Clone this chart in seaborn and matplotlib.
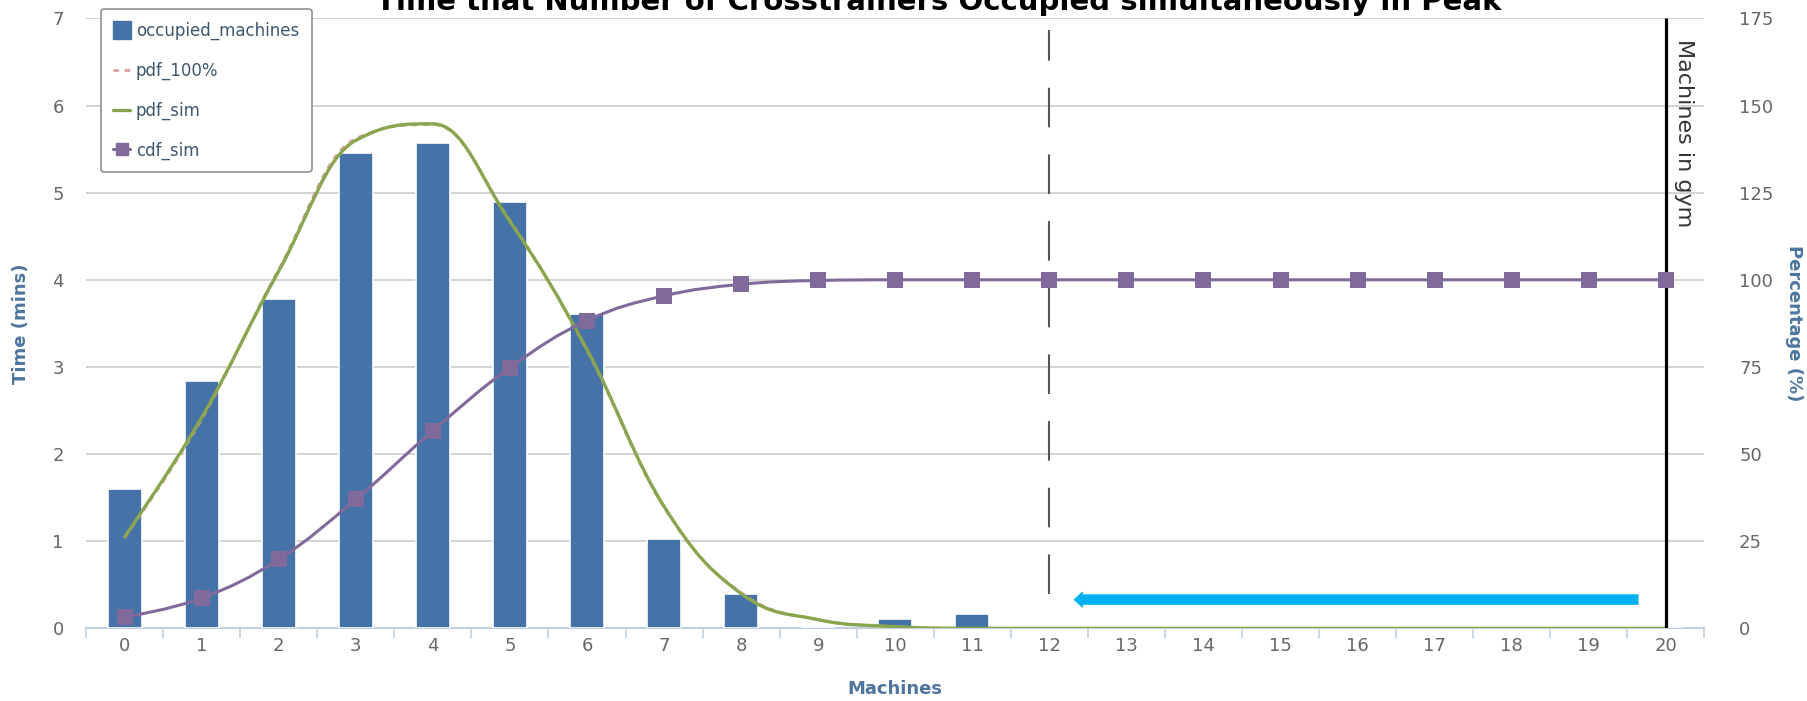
import seaborn as sns
import matplotlib.pyplot as plt
from matplotlib.path import Path
from matplotlib.patches import PathPatch
from matplotlib.lines import Line2D
from matplotlib import font_manager

# data
machines = list(range(21))
occupied = [1.60, 2.84, 3.78, 5.45, 5.57, 4.89, 3.61, 1.02, 0.39, 0.0, 0.11,
            0.16, 0, 0, 0, 0, 0, 0, 0, 0, 0]
pdf_sim = [1.05, 2.42, 4.10, 5.60, 5.79, 4.67, 3.20, 1.40, 0.40, 0.10, 0.02,
           0, 0, 0, 0, 0, 0, 0, 0, 0, 0]
pdf_100 = [1.04, 2.40, 4.12, 5.62, 5.78, 4.68, 3.19, 1.39, 0.41, 0.10, 0.02,
           0, 0, 0, 0, 0, 0, 0, 0, 0, 0]
cdf_sim = [3.2, 8.7, 19.8, 37.0, 56.7, 74.8, 88.3, 95.4, 98.7, 99.8, 100,
           100, 100, 100, 100, 100, 100, 100, 100, 100, 100]
left_ticks = [0, 1, 2, 3, 4, 5, 6, 7]
right_ticks = [0, 25, 50, 75, 100, 125, 150, 175]

threshold_x = 12
threshold_span = [0.40, 6.87]
gym_x = 20
arrow_x = [19.64, 12.32]
arrow_y = 0.33

title = "Time that Number of Crosstrainers Occupied simultaneously in Peak"

BLUE = "#4572A7"
GREEN = "#89A54E"
PURPLE = "#80699B"
PINK = "#D9A0A0"
AXIS_TITLE = "#4D759E"
TICK = "#666666"

avail = {f.name for f in font_manager.fontManager.ttflist}
tick_font = "Liberation Sans Narrow" if "Liberation Sans Narrow" in avail else "DejaVu Sans"


def spline_path(xs, ys, smoothing=1.5):
    # highcharts-style spline through the points
    denom = smoothing + 1
    n = len(xs)
    left = [(x, y) for x, y in zip(xs, ys)]
    right = list(left)
    for i in range(1, n - 1):
        x, y = xs[i], ys[i]
        lx = (smoothing * x + xs[i - 1]) / denom
        ly = (smoothing * y + ys[i - 1]) / denom
        rx = (smoothing * x + xs[i + 1]) / denom
        ry = (smoothing * y + ys[i + 1]) / denom
        corr = ((ry - ly) * (rx - x)) / (rx - lx) + y - ry
        ly += corr
        ry += corr
        py, ny = ys[i - 1], ys[i + 1]
        if ly > py and ly > y:
            ly = max(py, y); ry = 2 * y - ly
        elif ly < py and ly < y:
            ly = min(py, y); ry = 2 * y - ly
        if ry > ny and ry > y:
            ry = max(ny, y); ly = 2 * y - ry
        elif ry < ny and ry < y:
            ry = min(ny, y); ly = 2 * y - ry
        left[i] = (lx, ly)
        right[i] = (rx, ry)
    verts = [(xs[0], ys[0])]
    codes = [Path.MOVETO]
    for i in range(1, n):
        verts += [right[i - 1], left[i], (xs[i], ys[i])]
        codes += [Path.CURVE4] * 3
    return Path(verts, codes)


sns.set_theme(style="white")
plt.rcParams["font.family"] = ["DejaVu Sans"]

fig = plt.figure(figsize=(18.08, 7.01), dpi=100)
ax = fig.add_axes([0.0476, 0.1036, 0.8951, 0.8702])
ax2 = ax.twinx()

sns.barplot(x=machines, y=occupied, ax=ax, color=BLUE, saturation=1,
            width=0.44, edgecolor="white", linewidth=1.2, zorder=3)

ax.add_patch(PathPatch(spline_path(machines, pdf_100), fill=False, edgecolor=PINK,
                       lw=2, linestyle=(0, (2, 2)), zorder=4))
ax.add_patch(PathPatch(spline_path(machines, pdf_sim), fill=False, edgecolor=GREEN,
                       lw=2.4, zorder=5, capstyle="round"))

ax.vlines(threshold_x, threshold_span[0], threshold_span[1], colors="#555555",
          lw=1.5, linestyles=[(0, (19, 13))], zorder=6)
ax.vlines(gym_x, 0, 7, colors="black", lw=2.3, zorder=6)
ax.text(gym_x + 0.1, 6.76, "Machines in gym", rotation=-90, ha="left", va="top",
        fontsize=16, color="#333333", zorder=7)

ax.annotate("", xy=(arrow_x[1], arrow_y), xytext=(arrow_x[0], arrow_y),
            arrowprops=dict(arrowstyle="simple,head_length=0.6,head_width=1.1,tail_width=0.7",
                            mutation_scale=10, fc="#00B0F0", ec="#00B0F0", lw=0.5,
                            shrinkA=0, shrinkB=0), zorder=7)

ax2.add_patch(PathPatch(spline_path(machines, cdf_sim), fill=False, edgecolor=PURPLE,
                        lw=2.2, zorder=3))
sns.scatterplot(x=machines, y=cdf_sim, ax=ax2, marker="s", s=140, color=PURPLE,
                edgecolor=PURPLE, linewidth=0, zorder=4)

# axes
ax.set_xlim(-0.5, 20.5)
ax.set_ylim(0, 7)
ax2.set_ylim(0, 175)
ax.set_yticks(left_ticks)
ax2.set_yticks(right_ticks)
ax.set_xticks(machines)
ax.set_xticks([m - 0.5 for m in machines] + [20.5], minor=True)
ax.set_xticklabels([str(m) for m in machines])

ax.yaxis.grid(True, color="#C8C8C8", lw=1.1, zorder=0)
ax.xaxis.grid(False)
ax.set_axisbelow(True)
for a in (ax, ax2):
    for s in a.spines.values():
        s.set_visible(False)
ax.spines["bottom"].set_visible(True)
ax.spines["bottom"].set_color("#C0D0E0")
ax.spines["bottom"].set_linewidth(1.5)

ax.tick_params(axis="x", which="major", length=0, pad=6, labelsize=13, labelcolor=TICK)
ax.tick_params(axis="x", which="minor", length=7, width=1.2, color="#C0D0E0",
               direction="out", bottom=True)
ax.tick_params(axis="y", length=0, pad=16, labelsize=13, labelcolor=TICK)
ax2.tick_params(axis="y", length=0, pad=25, labelsize=13, labelcolor=TICK)
for lab in ax.get_xticklabels() + ax.get_yticklabels() + ax2.get_yticklabels():
    lab.set_family([tick_font, "DejaVu Sans"])

ax.set_xlabel("Machines", fontsize=13, fontweight="bold", color=AXIS_TITLE, labelpad=18)
ax.set_ylabel("Time (mins)", fontsize=13, fontweight="bold", color=AXIS_TITLE, labelpad=16)
ax2.set_ylabel("Percentage (%)", fontsize=13, fontweight="bold", color=AXIS_TITLE,
               rotation=-90, labelpad=21)

fig.text(939 / 1808, 1 - 10 / 701, title, ha="center", va="baseline",
         fontsize=21, fontweight="bold", color="black")

handles = [
    Line2D([], [], ls="none", marker="s", ms=13, color=BLUE),
    Line2D([], [], color=PINK, lw=2, ls=(0, (2, 2))),
    Line2D([], [], color=GREEN, lw=2.4),
    Line2D([], [], color=PURPLE, lw=2.2, marker="s", ms=9),
]
leg = ax2.legend(handles, ["occupied_machines", "pdf_100%", "pdf_sim", "cdf_sim"],
                 loc="upper left", bbox_to_anchor=(101 / 1808, 1 - 9 / 701),
                 bbox_transform=fig.transFigure, borderaxespad=0, fontsize=12,
                 frameon=True, fancybox=True, framealpha=1, edgecolor="#909090",
                 labelspacing=1.3, handlelength=1.0, handletextpad=0.35,
                 borderpad=0.75, labelcolor="#3E576F")
leg.get_frame().set_linewidth(1.2)
leg.set_zorder(10)

fig.savefig("out.png", dpi=100)
